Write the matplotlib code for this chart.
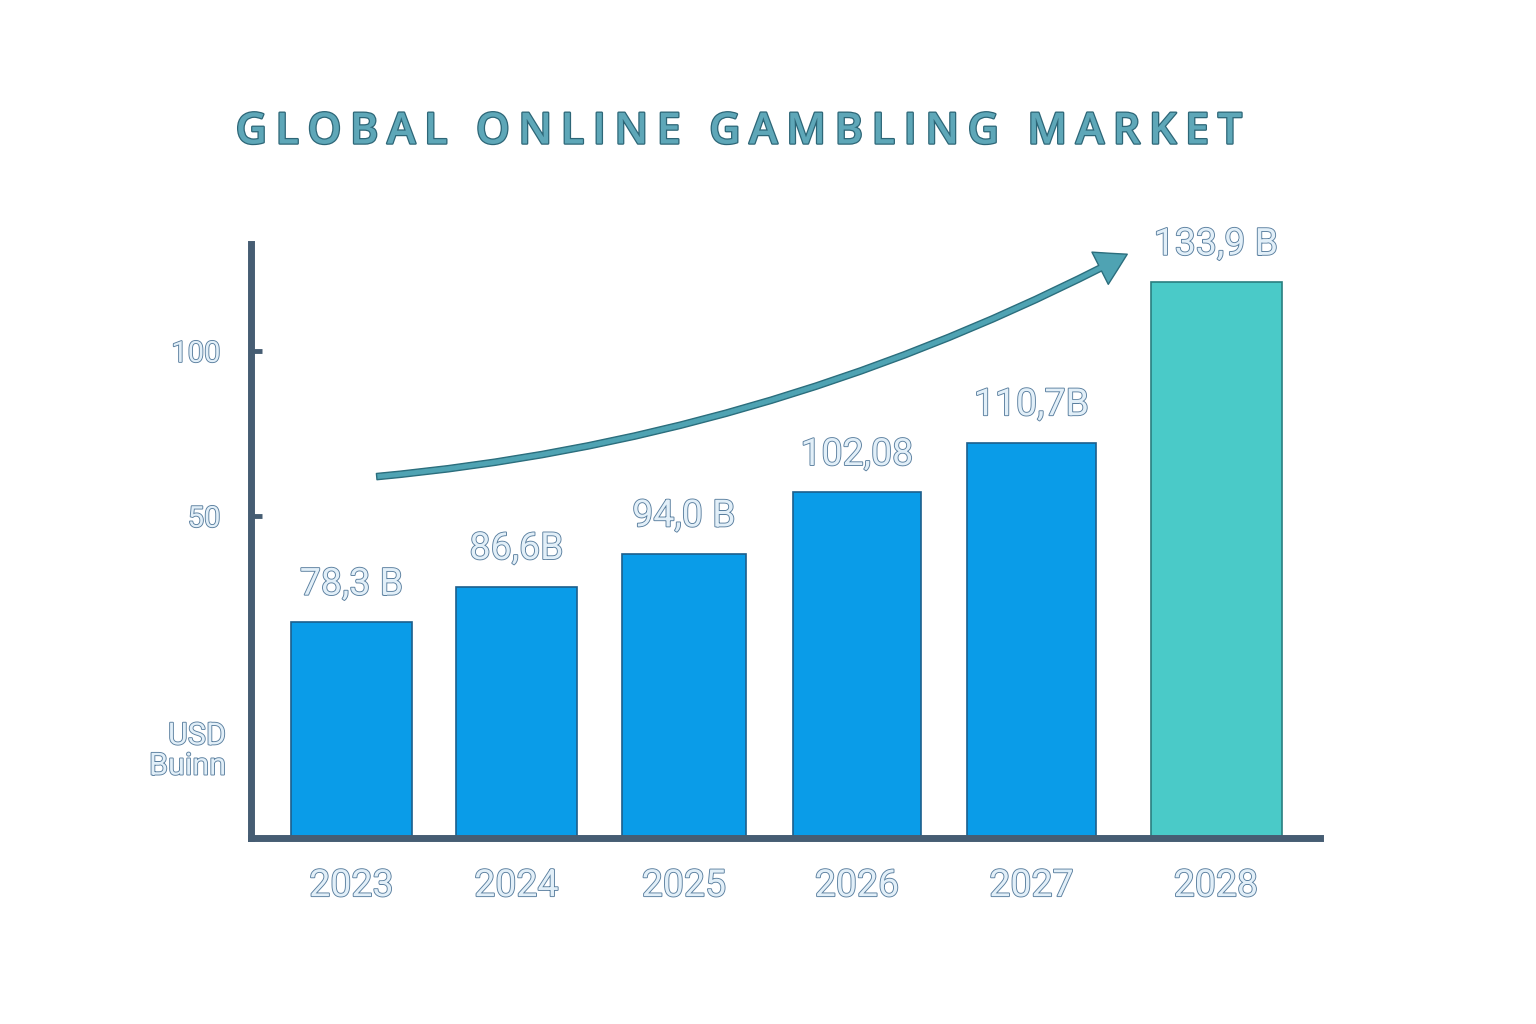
import matplotlib
matplotlib.use("Agg")
import matplotlib.pyplot as plt
import matplotlib.patheffects as pe
from matplotlib.patches import FancyArrowPatch

# Data
years = ["2023", "2024", "2025", "2026", "2027", "2028"]
value_labels = ["78,3 B", "86,6B", "94,0 B", "102,08", "110,7B", "133,9 B"]
# bar tops as they sit on the drawn y axis (ticks 50 / 100)
bar_tops = [17.8, 28.6, 38.5, 57.1, 72.2, 120.8]
y_ticks = [50, 100]
y_tick_labels = ["50", "100"]
unit_label = "USD\nBuinn"
title = "GLOBAL ONLINE GAMBLING MARKET"

# Layout (x in axis units, the bars are not evenly spaced in the source)
bar_x = [351.5, 516.5, 684.0, 857.0, 1031.5, 1216.0]
bar_w = [121.5, 121.5, 123.5, 128.0, 128.5, 131.0]
x_lim = (251, 1320)
y_lim = (-47.6, 132.4)

BLUE = "#0a9ce8"
TEAL = "#4acac8"
AXIS = "#465d73"
LABEL_FILL = "#e2eff8"
LABEL_EDGE = "#5a7f9f"

label_fx = [pe.withStroke(linewidth=1.3, foreground=LABEL_EDGE)]
title_fx = [pe.withStroke(linewidth=1.8, foreground="#2d6677")]
LABEL_FONT = dict(family=["Roboto", "DejaVu Sans"], fontweight="normal",
                  color=LABEL_FILL, path_effects=label_fx)

fig = plt.figure(figsize=(15.36, 10.24), dpi=100)
ax = fig.add_axes([251 / 1536, (1024 - 838) / 1024, (1320 - 251) / 1536, (838 - 244) / 1024])

colors = [BLUE] * (len(years) - 1) + [TEAL]
edges = ["#1d5f8c"] * (len(years) - 1) + ["#2a7f80"]
bars = ax.bar(bar_x, [t - y_lim[0] for t in bar_tops], width=bar_w, bottom=y_lim[0],
              color=colors, edgecolor=edges, linewidth=1.2, zorder=2)

for b, lab in zip(bars, value_labels):
    ax.annotate(lab, (b.get_x() + b.get_width() / 2, b.get_y() + b.get_height()),
                xytext=(0, 14), textcoords="offset points", ha="center", va="bottom",
                fontsize=27, **LABEL_FONT)

ax.set_xlim(*x_lim)
ax.set_ylim(*y_lim)
ax.set_xticks(bar_x)
ax.set_xticklabels(years)
ax.set_yticks(y_ticks)
ax.set_yticklabels(y_tick_labels)
ax.tick_params(axis="x", length=0, pad=21)
ax.tick_params(axis="y", direction="in", length=8, width=3.5, color=AXIS, pad=22)
for t in ax.get_xticklabels() + ax.get_yticklabels():
    t.set_family(["Roboto", "DejaVu Sans"])
    t.set_color(LABEL_FILL)
    t.set_path_effects(label_fx)
for t in ax.get_xticklabels():
    t.set_fontsize(27)
for t in ax.get_yticklabels():
    t.set_fontsize(21)

for side in ["top", "right"]:
    ax.spines[side].set_visible(False)
for side in ["left", "bottom"]:
    ax.spines[side].set_color(AXIS)
    ax.spines[side].set_linewidth(5)
    ax.spines[side].set_capstyle("projecting")

fig.text(226 / 1536, 1 - 751 / 1024, unit_label, ha="right", va="center",
         fontsize=22, linespacing=1.05, **LABEL_FONT)

# growth arrow
arrow = FancyArrowPatch((0.115, 0.608), (0.822, 0.985), transform=ax.transAxes,
                        connectionstyle="arc3,rad=0.1",
                        arrowstyle="simple,head_width=26,head_length=22,tail_width=4.5",
                        mutation_scale=1, facecolor="#4fa3b3", edgecolor="#2b6e7d",
                        linewidth=1, zorder=3, clip_on=False)
ax.add_patch(arrow)

# letter-spaced title
spaced = "\u2009".join(title)
fig.text(738 / 1536, 1 - 132 / 1024, spaced, ha="center", va="center",
         fontsize=31, fontweight="semibold", family=["Open Sans", "DejaVu Sans"],
         color="#5ea7b8", path_effects=title_fx)

fig.savefig("out.png", dpi=100, facecolor="white")
